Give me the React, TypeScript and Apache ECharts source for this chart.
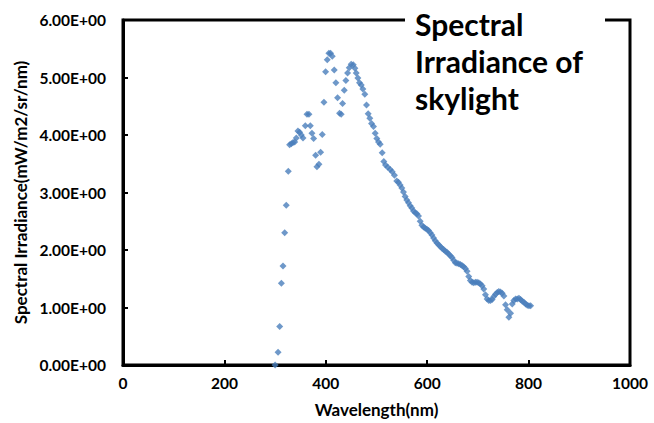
import React, { useEffect, useRef } from 'react';
import * as echarts from 'echarts';

const wavelengths = [
  300.0, 305.8, 309.0, 312.4, 315.6, 318.9, 322.0, 326.0, 328.7, 332.0,
  335.3, 338.6, 341.9, 345.1, 348.4, 351.7, 355.0, 359.6, 362.9, 366.8,
  369.4, 372.7, 376.0, 379.9, 382.5, 386.5, 389.8, 393.0, 396.3, 399.6,
  402.9, 406.1, 409.4, 412.7, 416.7, 419.9, 423.2, 427.2, 430.4, 433.1,
  436.4, 439.6, 442.9, 446.2, 450.1, 454.1, 457.3, 460.0, 463.3, 466.5,
  469.9, 473.1, 477.0, 480.3, 483.6, 486.8, 490.2, 494.1, 497.4, 500.6,
  503.9, 507.3, 511.2, 514.4, 517.7, 522.2, 527.0, 530.9, 535.4, 540.0,
  543.3, 546.6, 549.9, 553.2, 556.5, 559.8, 563.1, 566.4, 569.7, 573.0,
  576.3, 579.6, 582.9, 586.2, 589.5, 592.8, 596.1, 599.4, 602.7, 606.0,
  609.3, 612.6, 615.9, 619.2, 622.5, 625.8, 629.1, 632.4, 635.7, 639.0,
  642.3, 645.6, 648.9, 652.2, 655.5, 658.8, 662.1, 665.4, 668.7, 672.0,
  675.3, 678.6, 681.9, 685.2, 688.5, 691.8, 695.1, 698.4, 701.7, 705.0,
  708.3, 711.6, 714.9, 718.2, 721.5, 724.8, 728.1, 731.4, 734.7, 738.0,
  741.3, 744.6, 747.9, 751.2, 754.5, 757.8, 761.1, 764.4, 767.7, 771.0,
  774.3, 777.6, 780.9, 784.2, 787.5, 790.8, 794.1, 797.4, 800.7, 804.0,
];

const irradiance = [
  0.00, 0.22, 0.67, 1.42, 1.72, 2.30, 2.78, 3.37, 3.83, 3.85,
  3.87, 3.88, 3.95, 4.07, 4.05, 4.00, 3.95, 4.16, 4.36, 4.36,
  4.16, 4.03, 3.94, 3.65, 3.45, 3.49, 3.70, 4.01, 4.57, 5.10,
  5.31, 5.42, 5.42, 5.37, 5.13, 4.91, 4.65, 4.38, 4.36, 4.55,
  4.78, 4.95, 5.08, 5.17, 5.23, 5.22, 5.16, 5.08, 4.99, 4.91,
  4.87, 4.80, 4.71, 4.52, 4.37, 4.29, 4.20, 4.15, 4.03, 3.94,
  3.88, 3.84, 3.69, 3.54, 3.48, 3.44, 3.40, 3.36, 3.30, 3.20,
  3.18, 3.13, 3.08, 3.01, 2.93, 2.87, 2.82, 2.77, 2.73, 2.68,
  2.65, 2.63, 2.59, 2.50, 2.43, 2.40, 2.38, 2.36, 2.34, 2.30,
  2.26, 2.21, 2.16, 2.12, 2.09, 2.06, 2.03, 2.01, 1.98, 1.96,
  1.93, 1.90, 1.87, 1.82, 1.78, 1.77, 1.76, 1.75, 1.73, 1.71,
  1.68, 1.63, 1.54, 1.47, 1.44, 1.43, 1.44, 1.44, 1.43, 1.41,
  1.38, 1.32, 1.22, 1.15, 1.12, 1.12, 1.14, 1.19, 1.23, 1.26,
  1.28, 1.27, 1.25, 1.20, 1.05, 0.96, 0.83, 0.90, 1.06, 1.12,
  1.15, 1.15, 1.16, 1.14, 1.11, 1.09, 1.06, 1.04, 1.03, 1.03,
];

const titleLines = ['Spectral', 'Irradiance of', 'skylight'];
const xAxisTitle = 'Wavelength(nm)';
const yAxisTitle = 'Spectral Irradiance(mW/m2/sr/nm)';

const fmtSci = (v: number) => {
  const [m, e] = v.toExponential(2).split('e');
  const sign = e[0] === '-' ? '-' : '+';
  const digits = e.replace(/[+-]/, '').padStart(2, '0');
  return `${m}E${sign}${digits}`;
};

export default function App() {
  const ref = useRef<HTMLDivElement>(null);
  useEffect(() => {
    const chart = echarts.init(ref.current!, null, { renderer: 'svg' });
    const data = wavelengths.map((w, i) => [w, irradiance[i]]);
    const labelStyle = {
      color: '#000',
      fontFamily: 'Lato',
      fontWeight: 'bold' as const,
      fontSize: 15.5,
    };
    chart.setOption({
      animation: false,
      backgroundColor: '#fff',
      grid: {
        left: 123,
        right: 24,
        top: 20,
        bottom: 57,
        show: true,
        borderColor: '#000',
        borderWidth: 3,
        backgroundColor: 'transparent',
      },
      xAxis: {
        type: 'value',
        min: 0,
        max: 1000,
        interval: 200,
        axisLine: { show: true, onZero: false, lineStyle: { color: '#000', width: 3 } },
        axisTick: { show: true, inside: true, length: 5, lineStyle: { color: '#000', width: 2 } },
        splitLine: { show: false },
        axisLabel: { ...labelStyle, margin: 10, formatter: (v: number) => String(v) },
        name: xAxisTitle,
        nameLocation: 'middle',
        nameGap: 36,
        nameTextStyle: { ...labelStyle, fontSize: 17 },
      },
      yAxis: {
        type: 'value',
        min: 0,
        max: 6,
        interval: 1,
        axisLine: { show: true, onZero: false, lineStyle: { color: '#000', width: 3 } },
        axisTick: { show: true, inside: true, length: 5, lineStyle: { color: '#000', width: 2 } },
        splitLine: { show: false },
        axisLabel: { ...labelStyle, margin: 17, formatter: (v: number) => fmtSci(v) },
        name: yAxisTitle,
        nameLocation: 'middle',
        nameGap: 93,
        nameTextStyle: { ...labelStyle, fontSize: 17 },
      },
      series: [
        {
          type: 'scatter',
          data,
          symbol: 'diamond',
          symbolSize: 7,
          itemStyle: { color: '#4A7EBB' },
          clip: false,
        },
      ],
      graphic: [
        {
          type: 'rect',
          z: 100,
          shape: { x: 405, y: 0, width: 200, height: 125 },
          style: { fill: '#fff' },
        },
        {
          type: 'text',
          z: 101,
          x: 415,
          y: 5,
          style: {
            text: titleLines.join('\n'),
            font: 'bold 30px Lato',
            lineHeight: 37,
            fill: '#000',
            verticalAlign: 'top',
          },
        },
      ],
    });
    return () => chart.dispose();
  }, []);
  return (
    <div
      ref={ref}
      style={{ position: 'fixed', left: 0, top: 0, width: 654, height: 423 }}
    />
  );
}
